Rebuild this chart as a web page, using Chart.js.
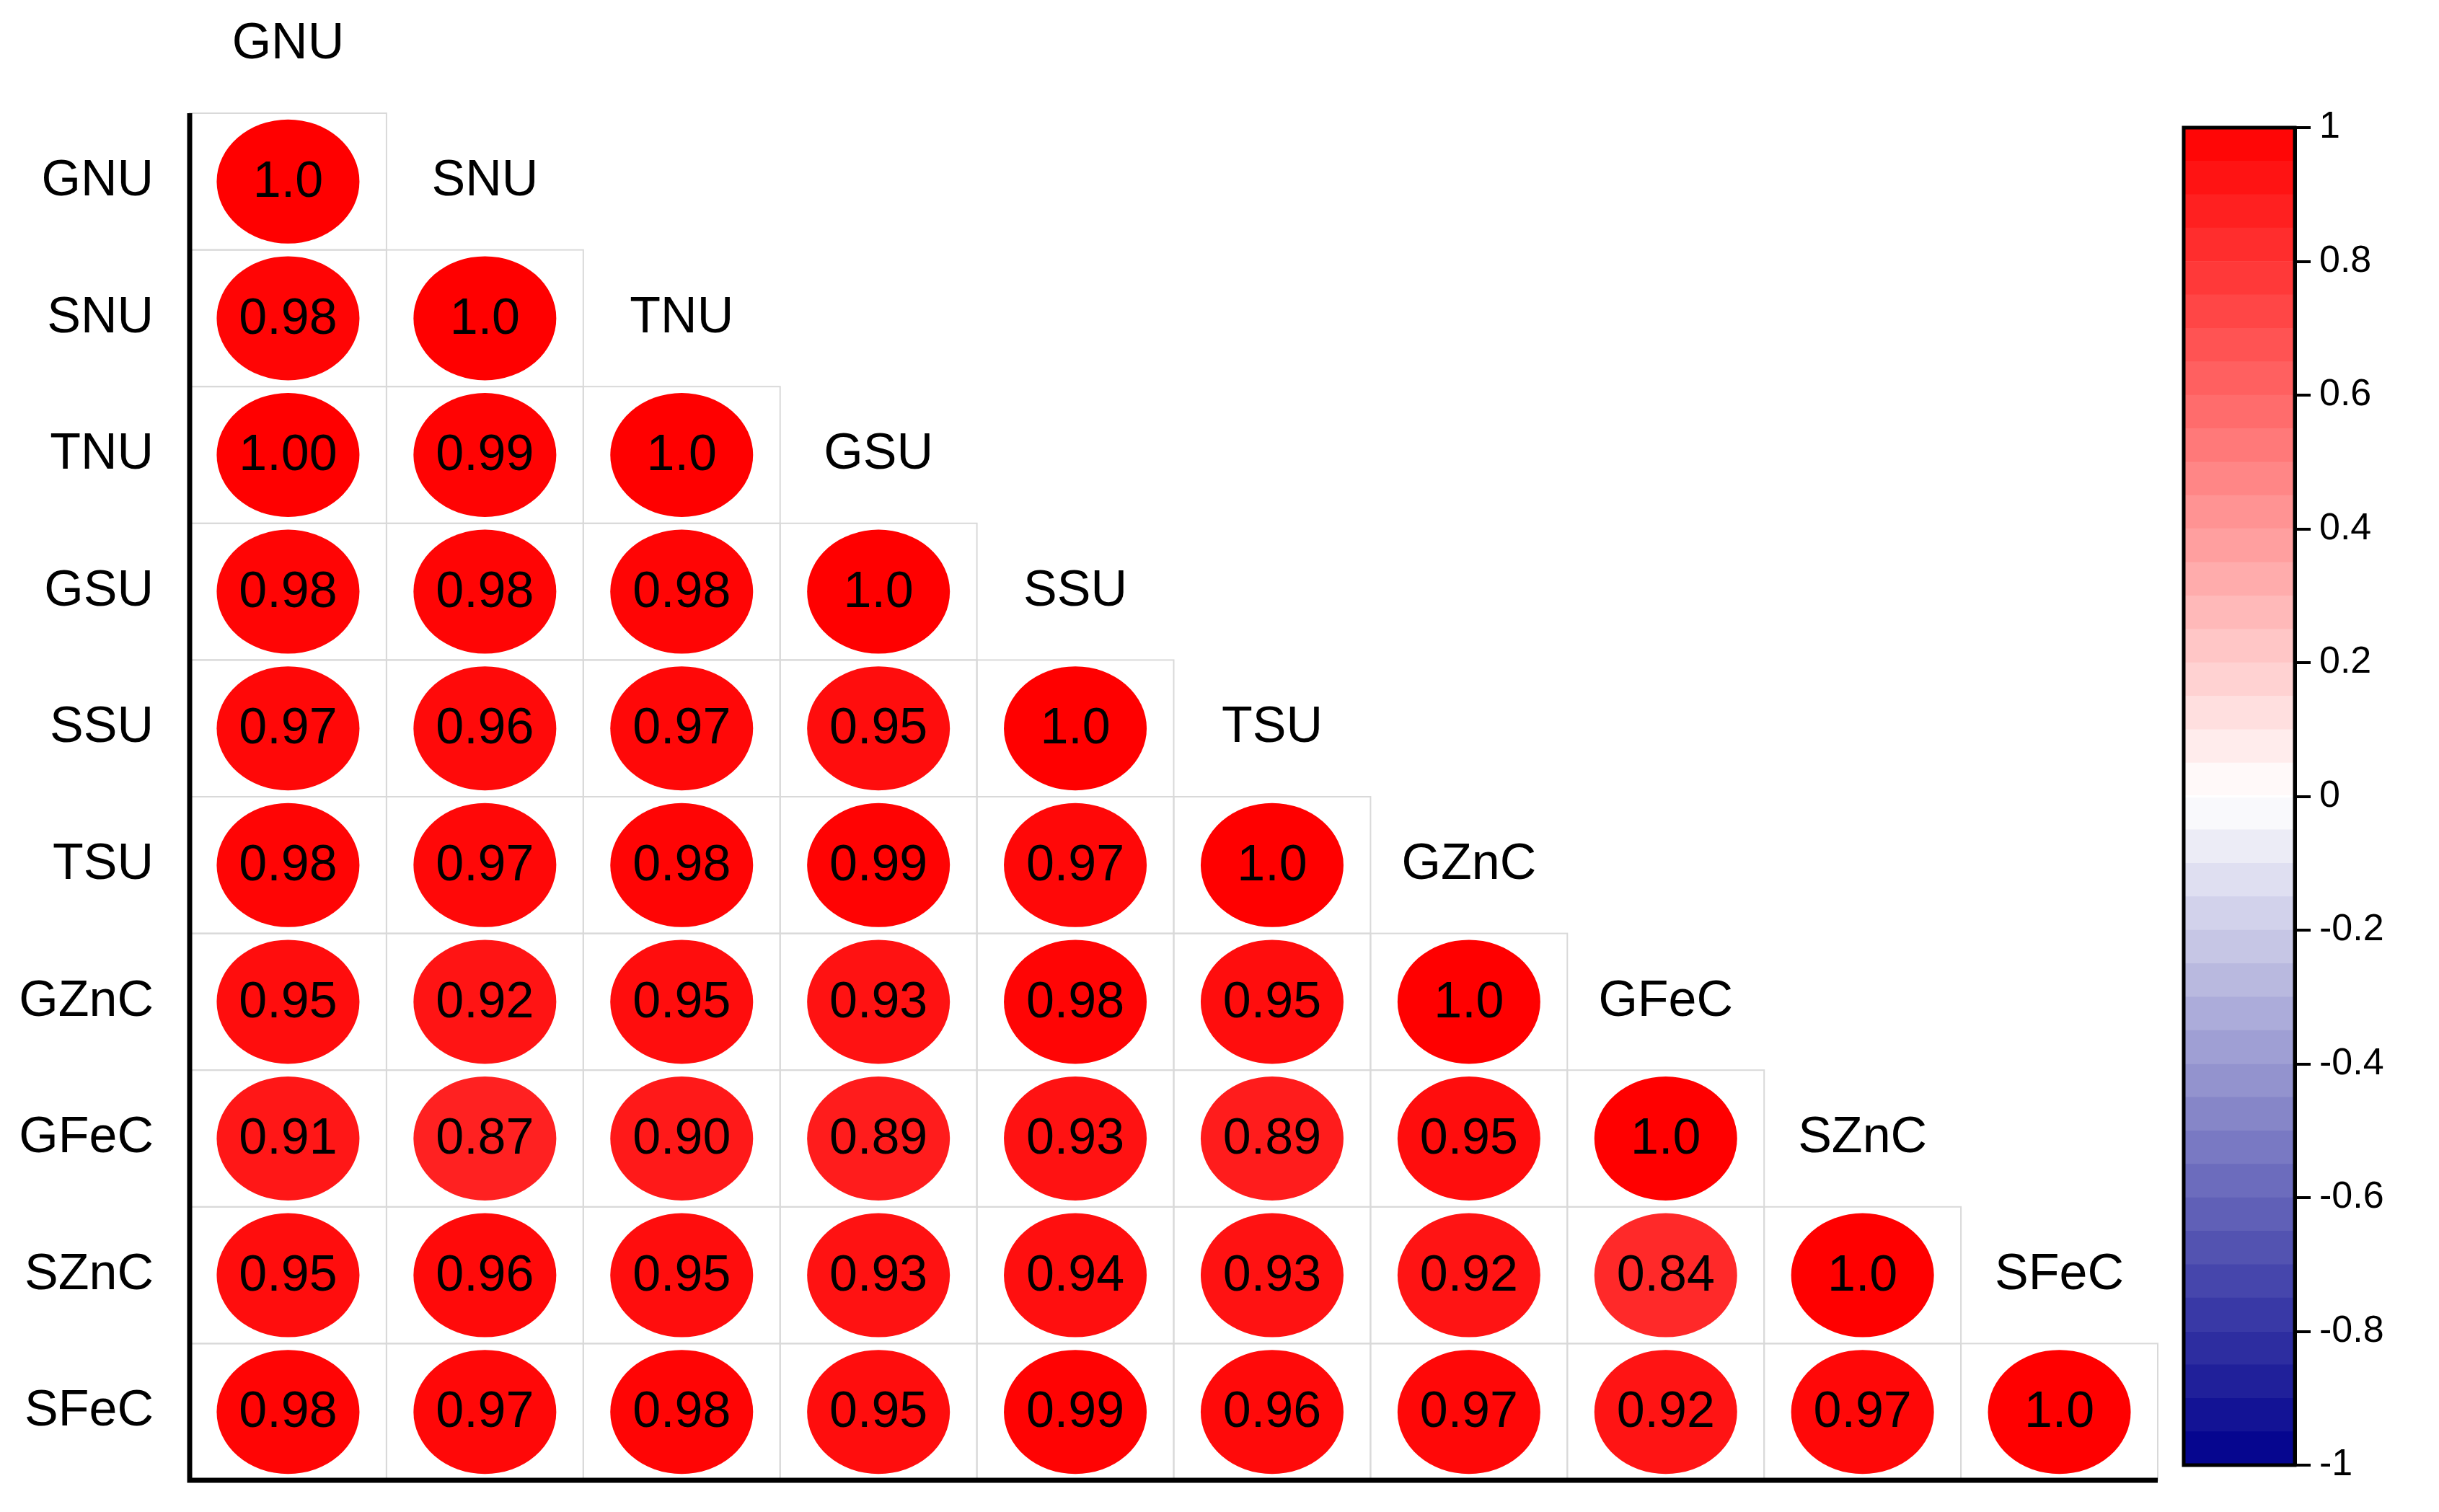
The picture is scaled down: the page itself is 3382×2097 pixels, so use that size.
<!DOCTYPE html>
<html>
<head>
<meta charset="utf-8">
<script src="https://cdn.jsdelivr.net/npm/chart.js@4"></script>
<style>
  body { margin: 0; background: #fff; width: 3382px; height: 2097px; overflow: hidden; }
  #wrap { position: absolute; left: 0; top: 0; width: 3010px; height: 2097px; }
  #cbwrap { position: absolute; left: 3000px; top: 0; width: 382px; height: 2097px; }
</style>
</head>
<body>
<div id="wrap"><canvas id="chart"></canvas></div>
<div id="cbwrap"><canvas id="cbar"></canvas></div>
<script>
const vars = ['GNU', 'SNU', 'TNU', 'GSU', 'SSU', 'TSU', 'GZnC', 'GFeC', 'SZnC', 'SFeC'];
// lower triangle, row by row
const corr = [
  [1.0],
  [0.98, 1.0],
  [1.00, 0.99, 1.0],
  [0.98, 0.98, 0.98, 1.0],
  [0.97, 0.96, 0.97, 0.95, 1.0],
  [0.98, 0.97, 0.98, 0.99, 0.97, 1.0],
  [0.95, 0.92, 0.95, 0.93, 0.98, 0.95, 1.0],
  [0.91, 0.87, 0.90, 0.89, 0.93, 0.89, 0.95, 1.0],
  [0.95, 0.96, 0.95, 0.93, 0.94, 0.93, 0.92, 0.84, 1.0],
  [0.98, 0.97, 0.98, 0.95, 0.99, 0.96, 0.97, 0.92, 0.97, 1.0]
];
const cbTicks = [1, 0.8, 0.6, 0.4, 0.2, 0, -0.2, -0.4, -0.6, -0.8, -1];

const FONT = '"Liberation Sans", Arial, sans-serif';

function colorFor(v) {
  if (v >= 0) {
    const g = Math.round(255 * (1 - v));
    return `rgb(255,${g},${g})`;
  }
  const t = -v;
  const r = Math.round(255 * (1 - t));
  const b = Math.round(255 - 115 * t);
  return `rgb(${r},${r},${b})`;
}

const points = [];
corr.forEach((row, r) => row.forEach((v, c) => {
  points.push({ x: c + 0.5, y: r + 0.5, v: v, diag: r === c });
}));

const corrPlugin = {
  id: 'corr',
  beforeDatasetsDraw(chart) {
    const { ctx, scales: { x, y } } = chart;
    ctx.save();
    ctx.strokeStyle = '#d9d9d9';
    ctx.lineWidth = 2;
    points.forEach(p => {
      const x0 = x.getPixelForValue(p.x - 0.5), x1 = x.getPixelForValue(p.x + 0.5);
      const y0 = y.getPixelForValue(p.y - 0.5), y1 = y.getPixelForValue(p.y + 0.5);
      ctx.strokeRect(x0, y0, x1 - x0, y1 - y0);
    });
    ctx.restore();
  },
  afterDatasetsDraw(chart) {
    const { ctx, scales: { x, y }, chartArea } = chart;
    const meta = chart.getDatasetMeta(0);
    ctx.save();
    meta.data.forEach((el, i) => {
      const p = points[i];
      ctx.beginPath();
      ctx.ellipse(el.x, el.y, 99, 86, 0, 0, Math.PI * 2);
      ctx.fillStyle = colorFor(p.v);
      ctx.fill();
      ctx.fillStyle = '#000';
      ctx.font = `70px ${FONT}`;
      ctx.textAlign = 'center';
      ctx.textBaseline = 'middle';
      ctx.fillText(p.diag ? p.v.toFixed(1) : p.v.toFixed(2), el.x, el.y + 2);
    });
    // row labels
    ctx.font = `70px ${FONT}`;
    ctx.textAlign = 'right';
    vars.forEach((name, k) => {
      ctx.fillText(name, x.getPixelForValue(0) - 50, y.getPixelForValue(k + 0.5));
      // diagonal labels above each column
      ctx.textAlign = 'center';
      ctx.fillText(name, x.getPixelForValue(k + 0.5), y.getPixelForValue(k - 0.5));
      ctx.textAlign = 'right';
    });
    // axis lines
    ctx.strokeStyle = '#000';
    ctx.lineWidth = 7;
    ctx.beginPath();
    ctx.moveTo(chartArea.left, chartArea.top);
    ctx.lineTo(chartArea.left, chartArea.bottom);
    ctx.lineTo(chartArea.right, chartArea.bottom);
    ctx.stroke();
    ctx.restore();
  }
};

new Chart(document.getElementById('chart'), {
  type: 'scatter',
  data: { datasets: [{ data: points, pointRadius: 0, pointHoverRadius: 0 }] },
  options: {
    responsive: true,
    maintainAspectRatio: false,
    animation: false,
    layout: { padding: { left: 263, top: 157, right: 18, bottom: 44 } },
    plugins: { legend: { display: false }, tooltip: { enabled: false } },
    scales: {
      x: { display: false, min: 0, max: 10 },
      y: { display: false, min: 0, max: 10, reverse: true }
    }
  },
  plugins: [corrPlugin]
});

// colour bar: 40 floating segments from -1 to 1
const cbSegs = [];
for (let i = 0; i < 40; i++) cbSegs.push(-1 + i * 0.05);

new Chart(document.getElementById('cbar'), {
  type: 'bar',
  data: {
    labels: [''],
    datasets: cbSegs.map(lo => ({
      data: [[lo, lo + 0.05]],
      backgroundColor: colorFor(lo + 0.025),
      borderWidth: 0,
      grouped: false,
      barPercentage: 1,
      categoryPercentage: 1
    }))
  },
  options: {
    responsive: true,
    maintainAspectRatio: false,
    animation: false,
    layout: { padding: { left: 28, top: 177, bottom: 65, right: 0 } },
    plugins: { legend: { display: false }, tooltip: { enabled: false } },
    scales: {
      x: { display: false },
      y: {
        position: 'right',
        min: -1, max: 1,
        afterBuildTicks: s => { s.ticks = cbTicks.map(v => ({ value: v })); },
        afterFit: s => { s.width = 200; },
        border: { display: true, color: '#000', width: 5 },
        grid: { drawOnChartArea: false, drawTicks: true, tickLength: 22, color: '#000', lineWidth: 4 },
        ticks: {
          color: '#000',
          padding: 12,
          font: { family: FONT, size: 52 },
          callback: v => String(Math.round(v * 10) / 10).replace('−', '-')
        }
      }
    }
  },
  plugins: [{
    id: 'box',
    afterDraw(chart) {
      const { ctx, chartArea: a } = chart;
      ctx.save();
      ctx.strokeStyle = '#000';
      ctx.lineWidth = 5;
      ctx.strokeRect(a.left, a.top, a.right - a.left, a.bottom - a.top);
      ctx.restore();
    }
  }]
});
</script>
</body>
</html>
